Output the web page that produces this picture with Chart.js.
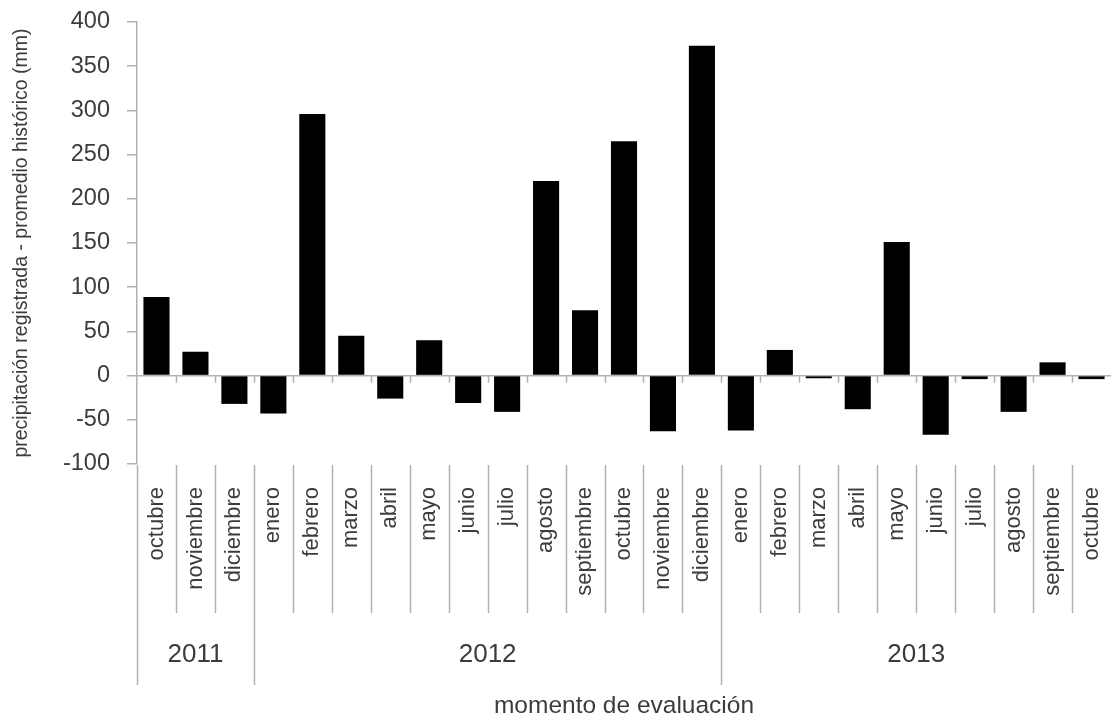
<!DOCTYPE html>
<html>
<head>
<meta charset="utf-8">
<script src="https://cdn.jsdelivr.net/npm/chart.js@4/dist/chart.umd.min.js"></script>
<style>
html,body{margin:0;padding:0;background:#fff;}
canvas{display:block;}
</style>
</head>
<body>
<canvas id="c" width="1111" height="717"></canvas>
<script>
const months = ["octubre","noviembre","diciembre",
  "enero","febrero","marzo","abril","mayo","junio","julio","agosto","septiembre","octubre","noviembre","diciembre",
  "enero","febrero","marzo","abril","mayo","junio","julio","agosto","septiembre","octubre"];
const years = ["2011","2012","2013"];
const yearStart = [0, 3, 15];
const yearEnd = [2, 14, 24];
const values = [89, 27, -32,
  -43, 296, 45, -26, 40, -31, -41, 220, 74, 265, -63, 373,
  -62, 29, -3, -38, 151, -67, -4, -41, 15, -4];
const yTitle = "precipitación registrada - promedio histórico (mm)";
const xTitle = "momento de evaluación";

const AXIS = '#a8b3bb';
const TEXT = '#3c3c3c';
const FONT = "'Liberation Sans', Arial, sans-serif";

const groupPlugin = {
  id: 'groups',
  afterDraw(chart) {
    const ctx = chart.ctx;
    const xs = chart.scales.x;
    const ys = chart.scales.y;
    const area = chart.chartArea;
    const n = months.length;
    const step = xs.width / n;
    const zeroY = ys.getPixelForValue(0);
    ctx.save();
    ctx.strokeStyle = AXIS;
    ctx.lineWidth = 1.5;
    for (let i = 0; i < n; i++) {
      const bx = Math.round(xs.getPixelForValue(i) - step / 2) + 0.5;
      const isYear = yearStart.includes(i);
      ctx.beginPath();
      ctx.moveTo(bx, area.bottom + 1);
      ctx.lineTo(bx, isYear ? 685 : 613);
      ctx.stroke();
      if (i > 0) {
        ctx.beginPath();
        ctx.moveTo(bx, zeroY);
        ctx.lineTo(bx, zeroY + 7);
        ctx.stroke();
      }
    }
    ctx.fillStyle = TEXT;
    ctx.font = "26px " + FONT;
    ctx.textAlign = 'center';
    ctx.textBaseline = 'middle';
    for (let k = 0; k < years.length; k++) {
      const cx = (xs.getPixelForValue(yearStart[k]) + xs.getPixelForValue(yearEnd[k])) / 2;
      ctx.fillText(years[k], cx, 655);
    }
    ctx.restore();
  }
};

new Chart(document.getElementById('c'), {
  type: 'bar',
  data: {
    labels: months,
    datasets: [{
      data: values,
      backgroundColor: '#000000',
      borderWidth: 0,
      barPercentage: 0.67,
      categoryPercentage: 1.0
    }]
  },
  options: {
    responsive: false,
    animation: false,
    devicePixelRatio: 1,
    layout: { padding: { top: 22, right: 0, bottom: 0, left: 0 } },
    plugins: { legend: { display: false }, tooltip: { enabled: false } },
    scales: {
      x: {
        grid: { display: false, drawTicks: false },
        border: { display: false },
        ticks: {
          color: TEXT,
          font: { family: FONT, size: 22 },
          maxRotation: 90, minRotation: 90,
          autoSkip: false,
          padding: 23
        },
        title: {
          display: true,
          text: xTitle,
          color: TEXT,
          font: { family: FONT, size: 24.5 },
          padding: { top: 0, bottom: -4 }
        },
        afterFit(s) { s.height = 253; s.paddingLeft = 0; s.paddingRight = 0; }
      },
      y: {
        min: -100, max: 400,
        ticks: {
          stepSize: 50,
          color: TEXT,
          font: { family: FONT, size: 23.5 },
          padding: 17
        },
        grid: {
          drawOnChartArea: true,
          color: c => (c.tick && c.tick.value === 0) ? AXIS : 'rgba(0,0,0,0)',
          tickColor: AXIS,
          tickLength: 10,
          lineWidth: 1.5
        },
        border: { display: true, color: AXIS, width: 1.5 },
        title: {
          display: true,
          text: yTitle,
          color: TEXT,
          font: { family: FONT, size: 19.5 },
          padding: { top: 10, bottom: 0 }
        },
        afterFit(s) { s.width = 137; s.paddingTop = 0; s.paddingBottom = 0; }
      }
    }
  },
  plugins: [groupPlugin]
});
</script>
</body>
</html>
